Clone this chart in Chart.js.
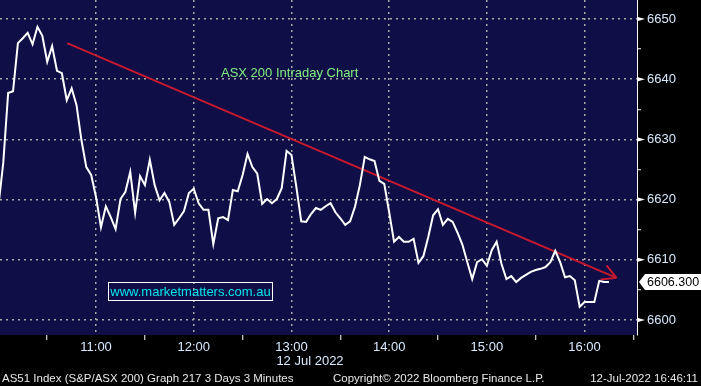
<!DOCTYPE html>
<html>
<head>
<meta charset="utf-8">
<script src="https://cdn.jsdelivr.net/npm/chart.js@4"></script>
<style>
    html, body { margin: 0; padding: 0; background: #000; }
    #wrap { position: relative; width: 701px; height: 386px; overflow: hidden; font-family: "Liberation Sans", Arial, sans-serif; }
    #chart { position: absolute; left: 0; top: 0; }
    .txt { position: absolute; white-space: nowrap; }
    #title { left: 221px; top: 65px; color: #80f080; font-size: 13px; }
    #site { left: 108px; top: 282px; width: 163px; height: 17px; border: 1px solid #fff; color: #00e5ee; font-size: 13px; line-height: 17px; text-align: center; }
    #date { left: 250px; width: 120px; top: 353px; text-align: center; color: #d8eaff; font-size: 13px; }
    .foot { top: 372px; color: #e8e8e8; font-size: 11.5px; }
</style>
</head>
<body>
<div id="wrap">
    <canvas id="chart" width="701" height="386"></canvas>
    <div class="txt" id="title">ASX 200 Intraday Chart</div>
    <div class="txt" id="site">www.marketmatters.com.au</div>
    <div class="txt" id="date">12 Jul 2022</div>
    <div class="txt foot" style="left:2px">AS51 Index (S&amp;P/ASX 200) Graph 217 3 Days 3 Minutes</div>
    <div class="txt foot" style="left:333px">Copyright© 2022 Bloomberg Finance L.P.</div>
    <div class="txt foot" style="right:3px">12-Jul-2022 16:46:11</div>
</div>
<script>
// 3 minute bars from 10:00, x is minutes after 10:00
const barMinutes = 3;
const indexValues = [
    6618.9, 6626.1, 6637.7, 6638.0, 6646.0, 6646.8, 6647.7, 6645.8, 6648.7, 6647.2,
    6642.9, 6645.5, 6641.4, 6641.0, 6636.5, 6638.5, 6635.7, 6629.9, 6625.4, 6624.1,
    6620.4, 6615.4, 6618.9, 6617.1, 6615.1, 6620.1, 6621.3, 6624.6, 6617.8, 6623.9,
    6622.4, 6626.6, 6622.4, 6619.9, 6621.1, 6619.6, 6615.8, 6616.9, 6618.1, 6621.1,
    6621.8, 6619.4, 6618.3, 6618.3, 6612.6, 6616.9, 6617.1, 6616.6, 6621.6, 6621.4,
    6624.1, 6627.6, 6625.4, 6624.3, 6619.3, 6620.1, 6619.4, 6620.1, 6621.9, 6628.1,
    6627.4, 6622.1, 6616.4, 6616.3, 6617.6, 6618.6, 6618.3, 6618.9, 6619.4, 6617.9,
    6616.9, 6615.8, 6616.4, 6618.8, 6622.4, 6627.1, 6626.7, 6626.4, 6623.1, 6622.6,
    6617.9, 6613.0, 6613.8, 6613.0, 6613.0, 6613.5, 6609.5, 6610.6, 6613.8, 6617.4,
    6618.4, 6615.8, 6616.8, 6616.3, 6614.5, 6612.5, 6609.6, 6606.8, 6609.6, 6610.1,
    6609.0, 6611.6, 6613.0, 6609.3, 6606.8, 6607.3, 6606.3, 6607.0, 6607.5, 6608.0,
    6608.3, 6608.5, 6608.8, 6609.6, 6611.5, 6609.6, 6607.1, 6607.3, 6606.6, 6602.2,
    6603.0, 6603.0, 6603.0, 6606.5, 6606.3, 6606.3
];
const lastPrice = 6606.3;

// hand drawn trend line (minutes, value)
const trendX = [42.2, 379.6];
const trendY = [6646.0, 6607.0];

// time axis: tick marks every half hour, labels and grid on the hour
const xTickMinutes = [30, 60, 90, 120, 150, 180, 210, 240, 270, 300, 330, 360, 390];
const hourMinutes = [60, 120, 180, 240, 300, 360];
const hourLabels = ['11:00', '12:00', '13:00', '14:00', '15:00', '16:00'];

const navy = '#0f0e47';
const gridGrey = '#a8a8a8';
const labelColor = '#d8eaff';
const trendRed = '#c8192f';

const indexPoints = indexValues.map((v, i) => ({ x: i * barMinutes, y: v }));
const trendPoints = trendX.map((x, i) => ({ x: x, y: trendY[i] }));

const isHour = v => hourMinutes.indexOf(v) >= 0;

const plotBg = {
    id: 'plotBg',
    beforeDraw(chart) {
        const { ctx, chartArea } = chart;
        ctx.save();
        ctx.fillStyle = '#000';
        ctx.fillRect(0, 0, chart.width, chart.height);
        ctx.fillStyle = navy;
        ctx.fillRect(chartArea.left, chartArea.top, chartArea.right - chartArea.left, chartArea.bottom - chartArea.top);
        ctx.restore();
    }
};

// arrow head at the end of the trend line
const arrowHead = {
    id: 'arrowHead',
    afterDatasetDraw(chart, args) {
        if (args.index !== 1) return;
        const pts = args.meta.data;
        const a = pts[pts.length - 2], b = pts[pts.length - 1];
        const ang = Math.atan2(b.y - a.y, b.x - a.x);
        const ctx = chart.ctx;
        ctx.save();
        ctx.strokeStyle = trendRed;
        ctx.lineWidth = 2;
        ctx.beginPath();
        [0.5, -0.5].forEach(d => {
            ctx.moveTo(b.x, b.y);
            ctx.lineTo(b.x + 16 * Math.cos(ang + Math.PI + d), b.y + 16 * Math.sin(ang + Math.PI + d));
        });
        ctx.stroke();
        ctx.restore();
    }
};

// small pointers on the price axis and the last price tag
const priceAxis = {
    id: 'priceAxis',
    afterDraw(chart) {
        const { ctx, chartArea } = chart;
        const y = chart.scales.y;
        const x0 = chartArea.right;
        ctx.save();
        ctx.fillStyle = '#ffffff';
        y.ticks.forEach(t => {
            if (Math.round(t.value) % 10 !== 0) return;
            const py = y.getPixelForValue(t.value);
            ctx.beginPath();
            ctx.moveTo(x0 + 1, py - 2);
            ctx.lineTo(x0 + 8, py);
            ctx.lineTo(x0 + 1, py + 2);
            ctx.closePath();
            ctx.fill();
        });

        const py = Math.round(y.getPixelForValue(lastPrice));
        ctx.beginPath();
        ctx.moveTo(x0 + 2, py);
        ctx.lineTo(x0 + 8, py - 8);
        ctx.lineTo(chart.width, py - 8);
        ctx.lineTo(chart.width, py + 8);
        ctx.lineTo(x0 + 8, py + 8);
        ctx.closePath();
        ctx.fill();
        ctx.fillStyle = '#000';
        ctx.font = '12.5px "Liberation Sans", Arial, sans-serif';
        ctx.textBaseline = 'middle';
        ctx.fillText(lastPrice.toFixed(3), x0 + 10, py + 1);
        ctx.restore();
    }
};

const tickFont = { family: '"Liberation Sans", Arial, sans-serif', size: 13 };

function noPad(scale) {
    scale.paddingTop = 0;
    scale.paddingBottom = 0;
    scale.paddingLeft = 0;
    scale.paddingRight = 0;
}

new Chart(document.getElementById('chart').getContext('2d'), {
    type: 'line',
    data: {
        datasets: [{
            label: 'AS51 Index',
            data: indexPoints,
            borderColor: '#ffffff',
            borderWidth: 2,
            pointRadius: 0,
            tension: 0,
            fill: false,
        }, {
            label: 'Trend',
            data: trendPoints,
            borderColor: trendRed,
            borderWidth: 2,
            pointRadius: 0,
            fill: false,
        }]
    },
    options: {
        responsive: false,
        animation: false,
        devicePixelRatio: 1,
        layout: { padding: 0, autoPadding: false },
        plugins: { legend: { display: false }, tooltip: { enabled: false } },
        scales: {
            x: {
                type: 'linear',
                min: 1.0,
                max: 392.2,
                afterBuildTicks(scale) { scale.ticks = xTickMinutes.map(v => ({ value: v })); },
                afterFit(scale) { scale.height = 51; noPad(scale); },
                border: { display: false, dash: [2, 4] },
                grid: {
                    color: c => (c.tick && isHour(c.tick.value)) ? gridGrey : 'transparent',
                    lineWidth: 1.5,
                    tickColor: c => (c.tick && !isHour(c.tick.value)) ? '#ffffff' : 'transparent',
                    tickLength: 5,
                    tickWidth: 1,
                    tickBorderDash: [],
                },
                ticks: {
                    autoSkip: false,
                    maxRotation: 0,
                    padding: 0,
                    color: labelColor,
                    font: tickFont,
                    callback: v => {
                        const i = hourMinutes.indexOf(v);
                        return i >= 0 ? hourLabels[i] : '';
                    }
                }
            },
            y: {
                position: 'right',
                min: 6597.51,
                max: 6653.16,
                afterFit(scale) { scale.width = 64; noPad(scale); },
                border: { display: true, color: '#ffffff', width: 1, dash: [2, 4] },
                grid: {
                    color: c => (c.tick && Math.round(c.tick.value) % 10 === 0) ? gridGrey : 'transparent',
                    lineWidth: 1.5,
                    tickColor: c => (c.tick && Math.round(c.tick.value) % 10 !== 0) ? '#ffffff' : 'transparent',
                    tickLength: 4,
                    tickWidth: 1,
                    tickBorderDash: [],
                },
                ticks: {
                    stepSize: 5,
                    maxTicksLimit: 30,
                    includeBounds: false,
                    padding: 6,
                    color: labelColor,
                    font: tickFont,
                    callback: v => Math.round(v) % 10 === 0 ? String(Math.round(v)) : ''
                }
            }
        }
    },
    plugins: [plotBg, arrowHead, priceAxis]
});
</script>
</body>
</html>
